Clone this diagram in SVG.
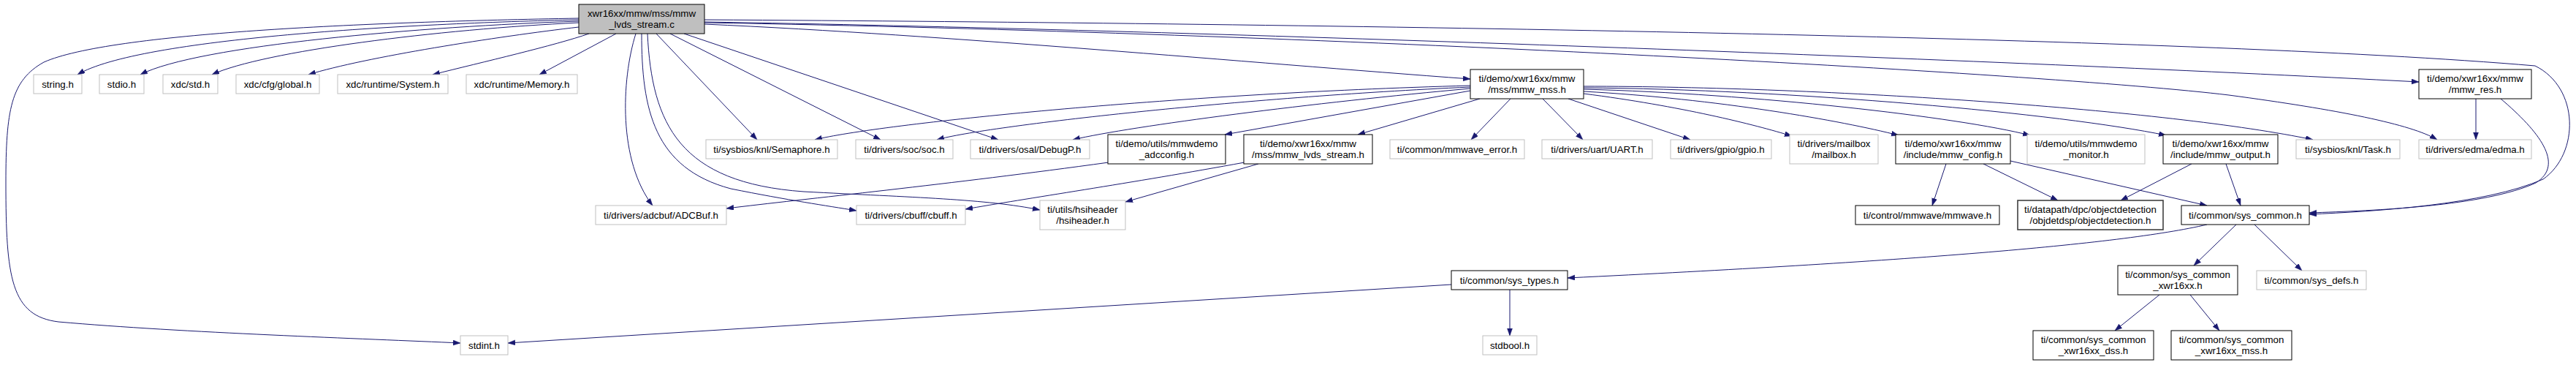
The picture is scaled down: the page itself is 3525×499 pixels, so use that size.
<svg xmlns="http://www.w3.org/2000/svg" width="3525" height="499" viewBox="0 0 3525 499">
<style>
text{font-family:"Liberation Sans",Arial,sans-serif;font-size:13.33px;fill:#000;text-anchor:middle}
.n rect{fill:#fff;stroke:#000;stroke-width:1}
.g rect{fill:#fff;stroke:#bfbfbf;stroke-width:1}
.m rect{fill:#bfbfbf;stroke:#000;stroke-width:1}
.d rect{fill:#fff;stroke:#404040;stroke-width:1.6}
#edges path{fill:none;stroke:#191970;stroke-width:1;marker-end:url(#ah)}
</style>
<defs>
<marker id="ah" markerUnits="userSpaceOnUse" markerWidth="11" markerHeight="8" refX="10" refY="3.5" orient="auto">
<path d="M0,0 L10,3.5 L0,7 Z" fill="#191970" stroke="#191970" stroke-width="0.5"/>
</marker>
</defs>
<rect width="3525" height="499" fill="#fff"/>
<g id="edges">
<path d="M792,25 C500,30 150,45 60,85 C15,110 8,150 8,250 C8,380 15,432 80,440 C250,455 500,463 630,469"/>
<path d="M792,27 C560,32 190,52 106,102"/>
<path d="M792,29 C580,36 270,62 192,102"/>
<path d="M792,31 C600,40 360,70 290,102"/>
<path d="M792,37 C680,50 500,78 422,102"/>
<path d="M806,46 C760,62 660,85 592,102"/>
<path d="M843,46 L738,102"/>
<path d="M870,46 C850,110 846,220 893,281"/>
<path d="M878,46 C878,150 895,230 1000,258 C1080,274 1130,281 1172,288"/>
<path d="M886,46 C892,170 930,250 1100,262 C1250,270 1350,272 1423,287"/>
<path d="M898,46 L1036,191"/>
<path d="M917,46 L1205,191"/>
<path d="M936,46 L1366,191"/>
<path d="M964,33 C1300,48 1700,85 2012,108"/>
<path d="M964,30 C1600,40 2700,80 3310,112"/>
<path d="M964,31 C1800,45 2800,100 3050,130 C3200,150 3300,170 3335,191"/>
<path d="M964,27 C1800,32 3000,50 3469,90 C3530,120 3530,210 3480,245 C3400,280 3250,289 3160,293"/>
<path d="M2012,124 L1676,184"/>
<path d="M2025,135 L1858,184"/>
<path d="M2067,135 L2013,191"/>
<path d="M2111,135 L2166,191"/>
<path d="M2146,135 L2313,191"/>
<path d="M2167,128 C2300,145 2400,170 2452,186"/>
<path d="M2167,125 C2350,135 2520,165 2598,185"/>
<path d="M2167,122 C2400,128 2680,160 2778,185"/>
<path d="M2167,120 C2450,122 2820,155 2964,185"/>
<path d="M2167,118 C2500,118 2970,150 3165,191"/>
<path d="M2012,117 C1600,128 1200,170 1115,191"/>
<path d="M2012,119 C1700,133 1350,172 1282,191"/>
<path d="M2012,121 C1800,140 1550,172 1468,191"/>
<path d="M3388,135 L3388,191"/>
<path d="M3422,135 C3475,180 3510,225 3470,250 C3400,282 3250,288 3160,291"/>
<path d="M1517,222 C1300,252 1100,272 994,285"/>
<path d="M1703,222 C1550,250 1400,272 1321,286"/>
<path d="M1722,224 L1540,276"/>
<path d="M2663,224 L2644,281"/>
<path d="M2714,224 L2816,274"/>
<path d="M2751,220 L3020,281"/>
<path d="M2999,224 L2902,274"/>
<path d="M3046,224 L3066,281"/>
<path d="M3020,307 C2900,335 2600,358 2145,380"/>
<path d="M3060,307 L3002,363"/>
<path d="M3085,307 L3150,370"/>
<path d="M2955,403 L2894,452"/>
<path d="M2997,403 L3037,452"/>
<path d="M1986,389 L695,469"/>
<path d="M2066,396 L2066,459"/>
</g>
<g id="main" class="m"><rect x="792" y="6" width="172" height="40"/><text x="878" y="23">xwr16xx/mmw/mss/mmw</text><text x="878" y="37.5">_lvds_stream.c</text></g>
<g id="string_h" class="g"><rect x="46" y="102" width="66" height="26"/><text x="79" y="119.5">string.h</text></g>
<g id="stdio_h" class="g"><rect x="136" y="102" width="61" height="26"/><text x="166.5" y="119.5">stdio.h</text></g>
<g id="xdc_std_h" class="g"><rect x="223" y="102" width="75" height="26"/><text x="260.5" y="119.5">xdc/std.h</text></g>
<g id="xdc_global_h" class="g"><rect x="323" y="102" width="114" height="26"/><text x="380" y="119.5">xdc/cfg/global.h</text></g>
<g id="xdc_system_h" class="g"><rect x="462" y="102" width="151" height="26"/><text x="537.5" y="119.5">xdc/runtime/System.h</text></g>
<g id="xdc_memory_h" class="g"><rect x="638" y="102" width="152" height="26"/><text x="714" y="119.5">xdc/runtime/Memory.h</text></g>
<g id="mmw_mss_h" class="n"><rect x="2012" y="95" width="155" height="40"/><text x="2089.5" y="112">ti/demo/xwr16xx/mmw</text><text x="2089.5" y="126.5">/mss/mmw_mss.h</text></g>
<g id="mmw_res_h" class="n"><rect x="3310" y="95" width="154" height="40"/><text x="3387" y="112">ti/demo/xwr16xx/mmw</text><text x="3387" y="126.5">/mmw_res.h</text></g>
<g id="semaphore_h" class="g"><rect x="966" y="191" width="180" height="26"/><text x="1056" y="208.5">ti/sysbios/knl/Semaphore.h</text></g>
<g id="soc_h" class="g"><rect x="1171" y="191" width="133" height="26"/><text x="1237.5" y="208.5">ti/drivers/soc/soc.h</text></g>
<g id="debugp_h" class="g"><rect x="1328" y="191" width="163" height="26"/><text x="1409.5" y="208.5">ti/drivers/osal/DebugP.h</text></g>
<g id="adcconfig_h" class="n"><rect x="1516" y="184" width="161" height="40"/><text x="1596.5" y="201">ti/demo/utils/mmwdemo</text><text x="1596.5" y="215.5">_adcconfig.h</text></g>
<g id="mmw_lvds_stream_h" class="n"><rect x="1702" y="184" width="176" height="40"/><text x="1790" y="201">ti/demo/xwr16xx/mmw</text><text x="1790" y="215.5">/mss/mmw_lvds_stream.h</text></g>
<g id="mmwave_error_h" class="g"><rect x="1902" y="191" width="184" height="26"/><text x="1994" y="208.5">ti/common/mmwave_error.h</text></g>
<g id="uart_h" class="g"><rect x="2110" y="191" width="151" height="26"/><text x="2185.5" y="208.5">ti/drivers/uart/UART.h</text></g>
<g id="gpio_h" class="g"><rect x="2286" y="191" width="138" height="26"/><text x="2355" y="208.5">ti/drivers/gpio/gpio.h</text></g>
<g id="mailbox_h" class="g"><rect x="2449" y="184" width="121" height="40"/><text x="2509.5" y="201">ti/drivers/mailbox</text><text x="2509.5" y="215.5">/mailbox.h</text></g>
<g id="mmw_config_h" class="n"><rect x="2594" y="184" width="157" height="40"/><text x="2672.5" y="201">ti/demo/xwr16xx/mmw</text><text x="2672.5" y="215.5">/include/mmw_config.h</text></g>
<g id="monitor_h" class="g"><rect x="2774" y="184" width="161" height="40"/><text x="2854.5" y="201">ti/demo/utils/mmwdemo</text><text x="2854.5" y="215.5">_monitor.h</text></g>
<g id="mmw_output_h" class="n"><rect x="2960" y="184" width="157" height="40"/><text x="3038.5" y="201">ti/demo/xwr16xx/mmw</text><text x="3038.5" y="215.5">/include/mmw_output.h</text></g>
<g id="task_h" class="g"><rect x="3142" y="191" width="142" height="26"/><text x="3213" y="208.5">ti/sysbios/knl/Task.h</text></g>
<g id="edma_h" class="g"><rect x="3310" y="191" width="154" height="26"/><text x="3387" y="208.5">ti/drivers/edma/edma.h</text></g>
<g id="adcbuf_h" class="g"><rect x="815" y="281" width="179" height="26"/><text x="904.5" y="298.5">ti/drivers/adcbuf/ADCBuf.h</text></g>
<g id="cbuff_h" class="g"><rect x="1172" y="281" width="149" height="26"/><text x="1246.5" y="298.5">ti/drivers/cbuff/cbuff.h</text></g>
<g id="hsiheader_h" class="g"><rect x="1423" y="274" width="117" height="40"/><text x="1481.5" y="291">ti/utils/hsiheader</text><text x="1481.5" y="305.5">/hsiheader.h</text></g>
<g id="mmwave_h" class="n"><rect x="2539" y="281" width="197" height="26"/><text x="2637.5" y="298.5">ti/control/mmwave/mmwave.h</text></g>
<g id="objectdetection_h" class="d"><rect x="2761" y="274" width="199" height="40"/><text x="2860.5" y="291">ti/datapath/dpc/objectdetection</text><text x="2860.5" y="305.5">/objdetdsp/objectdetection.h</text></g>
<g id="sys_common_h" class="n"><rect x="2985" y="281" width="175" height="26"/><text x="3072.5" y="298.5">ti/common/sys_common.h</text></g>
<g id="sys_types_h" class="n"><rect x="1986" y="370" width="159" height="26"/><text x="2065.5" y="387.5">ti/common/sys_types.h</text></g>
<g id="sys_common_xwr16xx_h" class="n"><rect x="2898" y="363" width="164" height="40"/><text x="2980" y="380">ti/common/sys_common</text><text x="2980" y="394.5">_xwr16xx.h</text></g>
<g id="sys_defs_h" class="g"><rect x="3088" y="370" width="150" height="26"/><text x="3163" y="387.5">ti/common/sys_defs.h</text></g>
<g id="stdint_h" class="g"><rect x="630" y="459" width="65" height="26"/><text x="662.5" y="476.5">stdint.h</text></g>
<g id="stdbool_h" class="g"><rect x="2029" y="459" width="74" height="26"/><text x="2066" y="476.5">stdbool.h</text></g>
<g id="sys_common_xwr16xx_dss_h" class="n"><rect x="2782" y="452" width="165" height="40"/><text x="2864.5" y="469">ti/common/sys_common</text><text x="2864.5" y="483.5">_xwr16xx_dss.h</text></g>
<g id="sys_common_xwr16xx_mss_h" class="n"><rect x="2971" y="452" width="165" height="40"/><text x="3053.5" y="469">ti/common/sys_common</text><text x="3053.5" y="483.5">_xwr16xx_mss.h</text></g>
</svg>
